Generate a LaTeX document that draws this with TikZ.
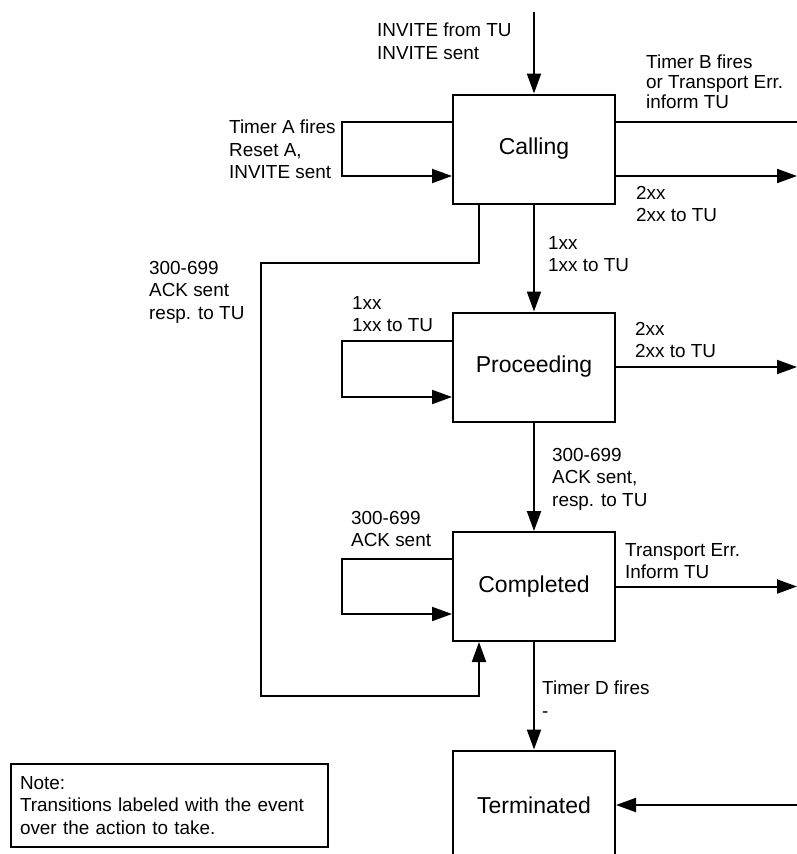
\documentclass[tikz,border=0pt]{standalone}
\usepackage{fontspec}
\setmainfont{Liberation Sans}
\usetikzlibrary{arrows.meta}

\newcommand{\lblfont}{\fontsize{18.9}{22.5}\selectfont}
\newcommand{\lblfonttight}{\fontsize{18.9}{20}\selectfont}
\newcommand{\statefont}{\fontsize{23}{27}\selectfont}

\tikzset{
  state/.style={draw, line width=2pt, minimum width=162pt, minimum height=109pt,
    inner sep=0pt, font=\statefont},
  wire/.style={line width=2pt},
  arr/.style={wire, -{Triangle[length=20pt,width=14pt]}},
  lbl/.style={font=\lblfont, align=left, inner sep=0pt, anchor=north west},
  notebox/.style={draw, line width=2pt, minimum width=317pt, minimum height=83pt,
    text width=299pt, inner xsep=9pt, inner ysep=0pt, align=left, font=\lblfont}
}

\begin{document}
\begin{tikzpicture}[x=1pt,y=-1pt]
  \useasboundingbox (0,0) rectangle (797,854);
  \clip (0,0) rectangle (797,854);

  % states
  \node[state] (calling)    at (534,149)   {Calling};
  \node[state] (proceeding) at (534,367)   {Proceeding};
  \node[state] (completed)  at (534,586.5) {Completed};
  \node[state] (terminated) at (534,805)   {Terminated};

  % free ends of the transitions
  \coordinate (start)   at (534,12);
  \coordinate (outB)    at (800,122);
  \coordinate (outC)    at (797,176);
  \coordinate (outP)    at (797,367);
  \coordinate (outT)    at (797,586.5);
  \coordinate (inT)     at (797,805);
  \coordinate (bendA)   at (261,263);
  \coordinate (bendB)   at (261,696);

  % initial transition
  \draw[arr] (start) -- (calling.north);
  \node[lbl] (lInvite) at (377,23) {INVITE from TU\\INVITE sent};

  % Calling
  \draw[arr] ([yshift=27pt]calling.west) -- ++(-110,0) -- ++(0,54)
    -- ([yshift=-27pt]calling.west);
  \node[lbl] (lTimerA) at (229,120) {Timer A fires\\Reset A,\\INVITE sent};

  \draw[wire] ([yshift=27pt]calling.east) -- (outB);
  \node[lbl, font=\lblfonttight] (lTimerB) at (646,55)
    {Timer B fires\\or Transport Err.\\inform TU};

  \draw[arr] ([yshift=-27pt]calling.east) -- (outC);
  \node[lbl] (l2xxC) at (636,186) {2xx\\2xx to TU};

  \draw[arr] (calling.south) -- (proceeding.north);
  \node[lbl] (l1xx) at (548,236) {1xx\\1xx to TU};

  \draw[arr] ([xshift=-55pt]calling.south) |- (bendA) -- (bendB)
    -| ([xshift=-55pt]completed.south);
  \node[lbl] (lFail) at (149,261) {300-699\\ACK sent\\resp. to TU};

  % Proceeding
  \draw[arr] ([yshift=26pt]proceeding.west) -- ++(-110,0) -- ++(0,56)
    -- ([yshift=-30pt]proceeding.west);
  \node[lbl] (l1xxP) at (352,296) {1xx\\1xx to TU};

  \draw[arr] (proceeding.east) -- (outP);
  \node[lbl] (l2xxP) at (635,322) {2xx\\2xx to TU};

  \draw[arr] (proceeding.south) -- (completed.north);
  \node[lbl] (lFailP) at (552,448) {300-699\\ACK sent,\\resp. to TU};

  % Completed
  \draw[arr] ([yshift=27.5pt]completed.west) -- ++(-110,0) -- ++(0,55)
    -- ([yshift=-27.5pt]completed.west);
  \node[lbl] (lFailC) at (351,511) {300-699\\ACK sent};

  \draw[arr] (completed.east) -- (outT);
  \node[lbl] (lErr) at (625,543) {Transport Err.\\Inform TU};

  \draw[arr] (completed.south) -- (terminated.north);
  \node[lbl] (lTimerD) at (542,681) {Timer D fires\\-};

  % Terminated
  \draw[arr] (inT) -- (terminated.east);

  % note
  \node[notebox] (note) at (169.5,805.5)
    {Note:\\Transitions labeled with the event\\over the action to take.};
\end{tikzpicture}
\end{document}
